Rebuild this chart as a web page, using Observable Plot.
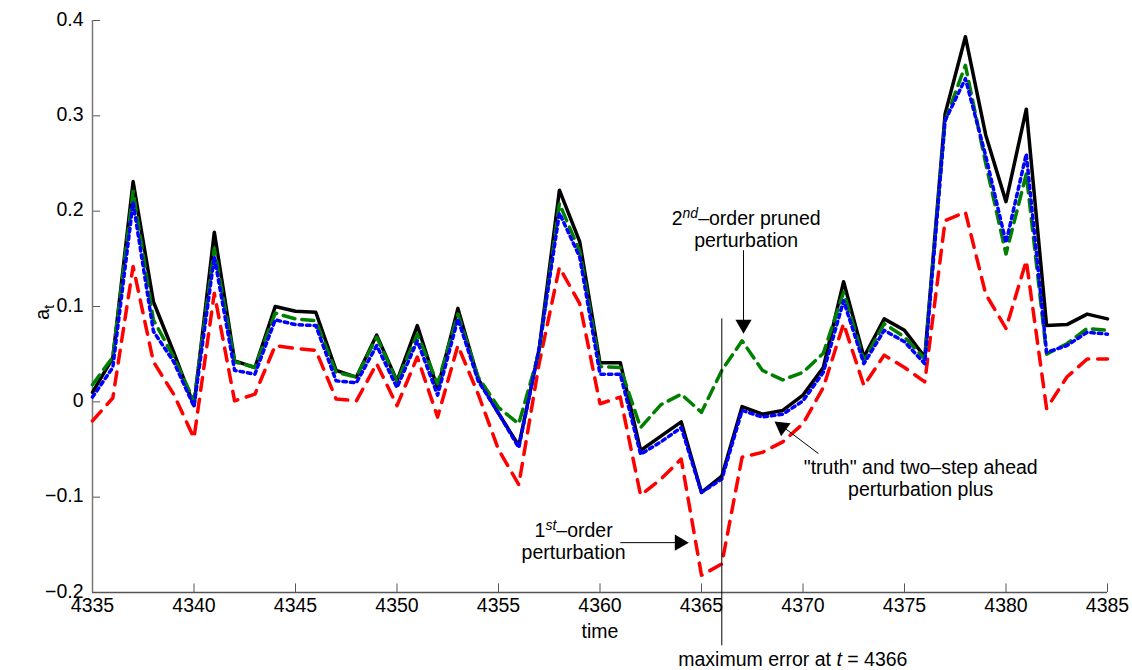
<!DOCTYPE html>
<html><head><meta charset="utf-8">
<script src="https://cdn.jsdelivr.net/npm/d3@7"></script>
<script src="https://cdn.jsdelivr.net/npm/@observablehq/plot@0.6"></script>
<style>
html,body{margin:0;padding:0;background:#fff;}
#chart svg{display:block;}
</style>
</head><body><div id="chart"></div>
<script>
const times = [4335,4336,4337,4338,4339,4340,4341,4342,4343,4344,4345,4346,4347,4348,4349,4350,
  4351,4352,4353,4354,4355,4356,4357,4358,4359,4360,4361,4362,4363,4364,4365,4366,4367,4368,
  4369,4370,4371,4372,4373,4374,4375,4376,4377,4378,4379,4380,4381,4382,4383,4384,4385];
const truth = [0.010,0.046,0.231,0.105,0.052,-0.004,0.178,0.043,0.036,0.100,0.095,0.094,0.033,0.026,
  0.070,0.022,0.080,0.014,0.098,0.024,-0.012,-0.046,0.055,0.222,0.168,0.041,0.041,-0.051,-0.036,
  -0.021,-0.095,-0.078,-0.005,-0.013,-0.009,0.007,0.036,0.126,0.047,0.087,0.075,0.047,0.302,0.383,
  0.280,0.210,0.307,0.080,0.081,0.092,0.087];
const secondOrderPruned = [0.018,0.047,0.221,0.086,0.047,0.001,0.161,0.042,0.036,0.093,0.087,0.085,0.031,
  0.026,0.068,0.021,0.071,0.019,0.092,0.026,-0.006,-0.023,0.052,0.208,0.158,0.037,0.036,-0.027,-0.003,
  0.008,-0.011,0.033,0.064,0.033,0.023,0.031,0.051,0.115,0.043,0.082,0.068,0.045,0.295,0.353,0.250,
  0.155,0.239,0.050,0.061,0.077,0.075];
const twoStepPlus = [0.005,0.036,0.209,0.074,0.042,-0.005,0.152,0.033,0.029,0.086,0.081,0.080,0.022,0.020,
  0.059,0.015,0.064,0.007,0.087,0.022,-0.012,-0.048,0.056,0.198,0.152,0.029,0.029,-0.055,-0.042,-0.027,
  -0.095,-0.081,-0.009,-0.016,-0.013,0.001,0.031,0.106,0.040,0.075,0.063,0.040,0.295,0.339,0.258,
  0.167,0.260,0.052,0.059,0.073,0.071];
const firstOrder = [-0.020,0.004,0.142,0.042,0.008,-0.038,0.114,0.001,0.008,0.059,0.056,0.054,0.003,0.001,
  0.040,-0.004,0.047,-0.016,0.059,0.008,-0.050,-0.087,0.040,0.141,0.103,-0.002,0.005,-0.098,-0.081,
  -0.060,-0.182,-0.170,-0.058,-0.053,-0.042,-0.023,0.015,0.082,0.017,0.049,0.036,0.021,0.190,0.199,
  0.113,0.077,0.148,-0.007,0.026,0.045,0.045];
const xTicks = [4335,4340,4345,4350,4355,4360,4365,4370,4375,4380,4385];
const yTicks = [-0.2,-0.1,0,0.1,0.2,0.3,0.4];

const rows = vals => times.map((t, i) => ({t, v: vals[i]}));
const yFmt = d => d === 0 ? "0" : d3.format(".1f")(d);

const plot = Plot.plot({
  width: 1132, height: 670,
  marginLeft: 92, marginRight: 25, marginTop: 20, marginBottom: 78,
  style: {fontFamily: "'Liberation Sans', Arial, Helvetica, sans-serif", fontSize: "19.5px", background: "white", color: "black"},
  x: {domain: [4335, 4385]},
  y: {domain: [-0.2, 0.4]},
  marks: [
    Plot.axisX({ticks: xTicks, tickSize: 0, tickPadding: 6, label: null, tickFormat: d => String(d)}),
    Plot.axisY({ticks: yTicks, tickSize: 0, tickPadding: 9, label: null, tickFormat: yFmt, dy: -1}),
    Plot.ruleY(yTicks, {x1: 4335, x2: 4335.4, stroke: "#555", strokeWidth: 1}),
    Plot.ruleX(xTicks, {y1: -0.2, y2: -0.191, stroke: "#555", strokeWidth: 1}),
    Plot.ruleX([4335], {y1: -0.2, y2: 0.4, stroke: "#777", strokeWidth: 1.5}),
    Plot.ruleY([-0.2], {x1: 4335, x2: 4385, stroke: "#555", strokeWidth: 1.5}),
    Plot.line(rows(truth), {x: "t", y: "v", stroke: "black", strokeWidth: 3.5}),
    Plot.line(rows(firstOrder), {x: "t", y: "v", stroke: "#ff0000", strokeWidth: 3.5, strokeDasharray: "13,9"}),
    Plot.line(rows(secondOrderPruned), {x: "t", y: "v", stroke: "#008000", strokeWidth: 3.5, strokeDasharray: "12,7"}),
    Plot.line(rows(twoStepPlus), {x: "t", y: "v", stroke: "#0000ff", strokeWidth: 3.5, strokeDasharray: "3.5,4"}),
    // vertical marker at maximum error
    Plot.ruleX([4366], {y1: 0.087, y2: -0.256, stroke: "black", strokeWidth: 1}),
    // annotation arrows
    Plot.link([0], {x1: 4367.07, y1: 0.159, x2: 4367.07, y2: 0.080, stroke: "black", strokeWidth: 1}),
    Plot.dot([0], {x: 4367.07, y: 0.0717, dy: -9, symbol: "triangle", r: 6, fill: "black", stroke: "none", rotate: 180}),
    Plot.link([0], {x1: 4370.76, y1: -0.0543, x2: 4369.0, y2: -0.026, stroke: "black", strokeWidth: 1}),
    Plot.dot([0], {x: 4368.6, y: -0.0206, dx: 7.5, dy: 5.5, symbol: "triangle", r: 6, fill: "black", stroke: "none", rotate: -54}),
    Plot.link([0], {x1: 4361.0, y1: -0.1477, x2: 4363.9, y2: -0.1477, stroke: "black", strokeWidth: 1}),
    Plot.dot([0], {x: 4364.36, y: -0.1477, dx: -9, symbol: "triangle", r: 6, fill: "black", stroke: "none", rotate: 90}),
    // annotation texts
    Plot.text(["2^{nd}–order pruned\nperturbation"], {x: 4367.2, y: 0.181, lineHeight: 1.1, textAnchor: "middle", fill: "black"}),
    Plot.text(["\"truth\" and two–step ahead\nperturbation plus"], {x: 4375.8, y: -0.080, lineHeight: 1.1, textAnchor: "middle", fill: "black"}),
    Plot.text(["1^{st}–order\nperturbation"], {x: 4358.7, y: -0.146, lineHeight: 1.1, textAnchor: "middle", fill: "black"}),
    Plot.text(["maximum error at *t* = 4366"], {x: 4369.5, y: -0.271, textAnchor: "middle", fill: "black"}),
    Plot.text(["time"], {x: 4360, y: -0.2, dy: 39, fill: "black"}),
    Plot.text(["a_{t}"], {x: 4335, y: 0.094, dx: -50, rotate: -90, fill: "black"})
  ]
});

// rich text: ^{..} superscript italic, _{..} subscript, *..* italic
function richify(svg) {
  const NS = "http://www.w3.org/2000/svg";
  svg.querySelectorAll("text, tspan").forEach(el => {
    for (const node of Array.from(el.childNodes)) {
      if (node.nodeType !== 3) continue;
      const s = node.textContent;
      if (!/(\^\{|_\{|\*)/.test(s)) continue;
      const frag = document.createDocumentFragment();
      const re = /\^\{([^}]*)\}|_\{([^}]*)\}|\*([^*]*)\*/g;
      let last = 0, m, pendingDy = 0;
      const addPlain = str => {
        if (!str) return;
        if (pendingDy) {
          const t = document.createElementNS(NS, "tspan");
          t.setAttribute("dy", pendingDy);
          t.textContent = str;
          frag.appendChild(t);
          pendingDy = 0;
        } else frag.appendChild(document.createTextNode(str));
      };
      while ((m = re.exec(s))) {
        addPlain(s.slice(last, m.index));
        const t = document.createElementNS(NS, "tspan");
        if (m[1] !== undefined) {
          t.setAttribute("dy", -7);
          t.setAttribute("font-size", "14");
          t.setAttribute("font-style", "italic");
          t.textContent = m[1];
          pendingDy = 7;
        } else if (m[2] !== undefined) {
          t.setAttribute("dy", 5);
          t.setAttribute("font-size", "15");
          t.textContent = m[2];
          pendingDy = -5;
        } else {
          t.setAttribute("font-style", "italic");
          t.textContent = m[3];
        }
        frag.appendChild(t);
        last = re.lastIndex;
      }
      addPlain(s.slice(last));
      el.replaceChild(frag, node);
    }
  });
}
richify(plot);
document.getElementById("chart").appendChild(plot);
</script>
</body></html>
